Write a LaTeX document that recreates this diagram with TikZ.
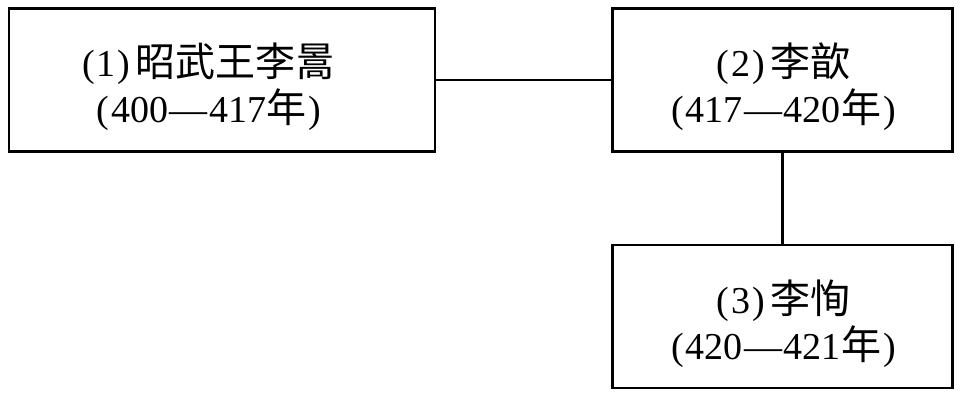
\documentclass[tikz,border=0pt]{standalone}
\usepackage{fontspec}
\setmainfont{Liberation Serif}
\newfontfamily\cjk{Noto Sans CJK SC}
\usetikzlibrary{calc}
\tikzset{
  box/.style={draw=black, line width=2.8pt, minimum width=#1, minimum height=143pt, inner sep=0pt},
  lbl/.style={align=center, inner sep=0pt, font=\fontsize{38}{46}\selectfont},
  conn/.style={draw=black, line width=2.8pt}
}
\newcommand{\zh}[1]{{\cjk\fontsize{40}{46}\selectfont #1}}
\newcommand{\lp}{(\kern2pt}
\newcommand{\rp}{\kern2pt)}
\newcommand{\dsh}{\kern1.5pt—\kern1.5pt}
\begin{document}
\begin{tikzpicture}[x=1pt,y=1pt]
\useasboundingbox (0,0) rectangle (961,-397);
\node[box=426pt] (b1) at (222,-80) {};
\node[box=340pt] (b2) at (782.5,-80) {};
\node[box=340pt] (b3) at (782.5,-316.5) {};
\node[lbl] (t1) at ($(b1.center)+(-13,-7)$) {\lp 1\rp\kern5pt\zh{昭武王李暠}\\\lp 400\dsh 417\zh{年}\rp};
\node[lbl] (t2) at ($(b2.center)+(1,-7)$) {\lp 2\rp\kern5pt\zh{李歆}\\\lp 417\dsh 420\zh{年}\rp};
\node[lbl] (t3) at ($(b3.center)+(1,-7)$) {\lp 3\rp\kern5pt\zh{李恂}\\\lp 420\dsh 421\zh{年}\rp};
\draw[conn] (b1.east) -- (b2.west);
\draw[conn] (b2.south) -- (b3.north);
\end{tikzpicture}
\end{document}
